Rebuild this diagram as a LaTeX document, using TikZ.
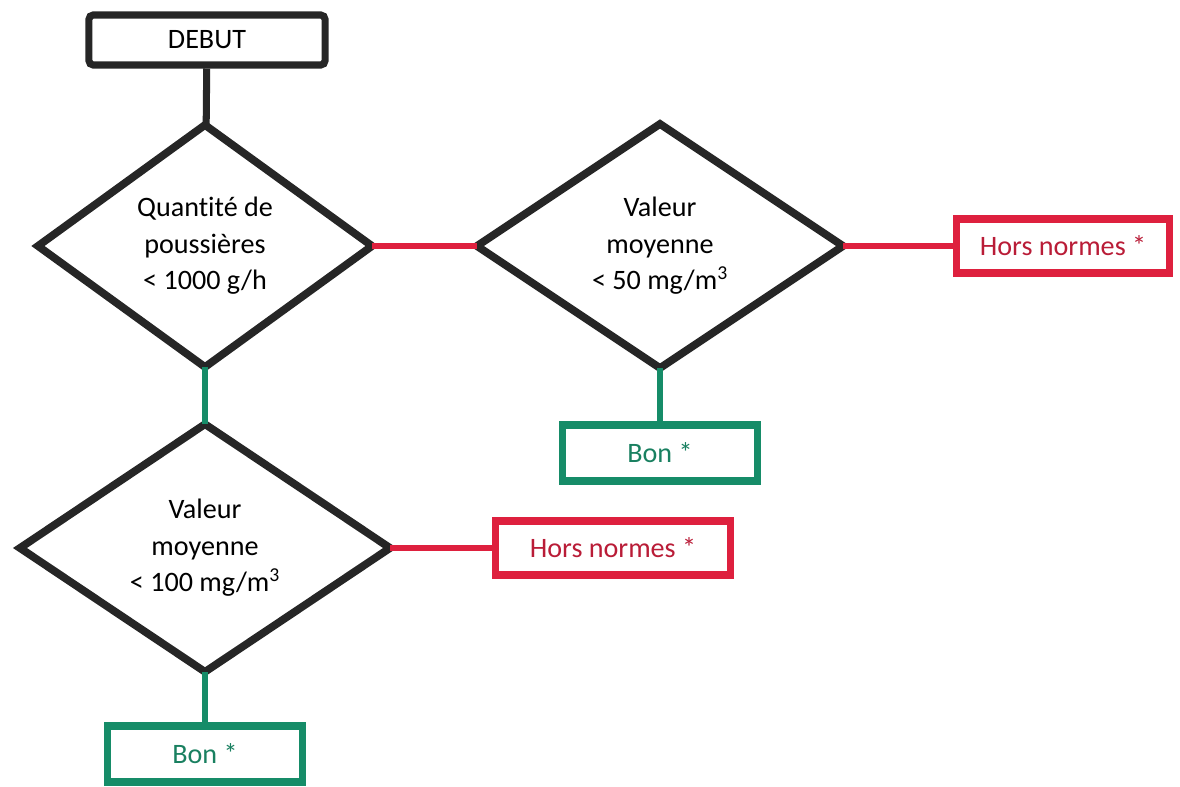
\documentclass[tikz,border=0pt]{standalone}
\usepackage{fontspec}
\setmainfont[Ligatures=NoCommon]{Carlito}
\usepackage{tikz}
\usetikzlibrary{shapes.geometric}
\definecolor{hnred}{RGB}{222,32,62}
\definecolor{hntext}{RGB}{185,28,55}
\definecolor{okgreen}{RGB}{22,140,104}
\definecolor{oktext}{RGB}{25,128,96}
\begin{document}
\begin{tikzpicture}[x=0.025cm,y=-0.025cm,every node/.style={font=\fontsize{20}{26}\selectfont,align=center},
  startbox/.style={draw=black!85,line width=5pt,rounded corners=3pt,minimum width=5.9cm,minimum height=1.25cm},
  decision/.style={diamond,draw=black!85,line width=5.5pt,inner sep=0pt,outer sep=0pt},
  okbox/.style={draw=okgreen,text=oktext,line width=5pt,minimum width=4.85cm,minimum height=1.4cm},
  badbox/.style={draw=hnred,text=hntext,line width=5pt,minimum height=1.35cm},
  yesline/.style={draw=okgreen,line width=4pt},
  noline/.style={draw=hnred,line width=4pt}]
\useasboundingbox (0,0) rectangle (1180,787);
\node[startbox] (debut) at (207,40) {DEBUT};
\node[decision,minimum width=8.35cm,minimum height=6.05cm] (qty) at (205,246) {Quantité de\\poussières\\< 1000 g/h};
\node[decision,minimum width=9.15cm,minimum height=6.1cm] (moy50) at (660,246) {Valeur\\moyenne\\< 50 mg/m\textsuperscript{3}};
\node[badbox,minimum width=5.3cm] (hors1) at (1063,246) {Hors normes *};
\node[okbox] (bon1) at (660,453) {Bon *};
\node[decision,minimum width=9.25cm,minimum height=6.05cm] (moy100) at (205,548) {Valeur\\moyenne\\< 100 mg/m\textsuperscript{3}};
\node[badbox,minimum width=5.85cm] (hors2) at (613,548) {Hors normes *};
\node[okbox] (bon2) at (205,754) {Bon *};
\draw[line width=5pt,black!85] (debut) -- (qty);
\draw[noline] (qty.east) -- (moy50.west);
\draw[noline] (moy50.east) -- (hors1.west);
\draw[yesline] (moy50.south) -- (bon1.north);
\draw[yesline] (qty.south) -- (moy100.north);
\draw[noline] (moy100.east) -- (hors2.west);
\draw[yesline] (moy100.south) -- (bon2.north);
\end{tikzpicture}
\end{document}
